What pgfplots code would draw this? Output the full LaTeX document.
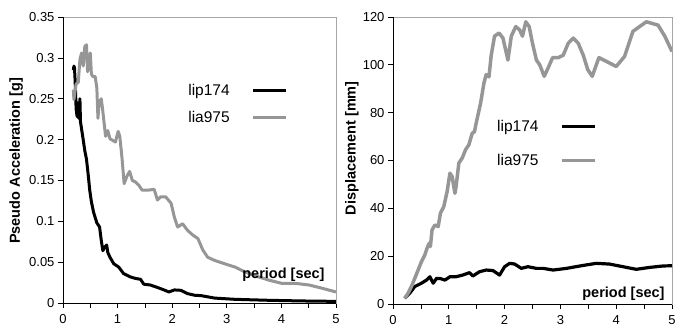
\documentclass[border=0pt]{standalone}
\usepackage{fontspec}
\setmainfont{Liberation Sans}
\usepackage{pgfplots}
\pgfplotsset{compat=1.18}
\definecolor{lgray}{RGB}{150,150,150}
\begin{document}
\begin{tikzpicture}
\pgfplotsset{
 myax/.style={
  scale only axis, anchor=origin,
  xmin=0,xmax=5, ymin=0,
  xtick={0,1,2,3,4,5}, minor xtick={0.5,1.5,2.5,3.5,4.5},
  tick align=outside, xtick pos=bottom, ytick pos=left,
  major tick length=5pt, minor tick length=5pt,
  every tick/.style={black, line width=0.7pt},
  minor tick style={black, line width=0.7pt},
  axis line style={draw=gray!70, line width=0.5pt},
  tick label style={font=\fontsize{13}{15}\selectfont},
  xticklabel style={yshift=-3pt},
  /pgf/number format/assume math mode=true,
  ylabel style={font=\fontsize{14.5}{17}\selectfont\bfseries, anchor=center},
  legend style={draw=none, fill=none, font=\fontsize{15.5}{18}\selectfont, anchor=north west, row sep=10pt, column sep=20pt},
  legend cell align=left,
  legend plot pos=right,
  legend image code/.code={\draw[##1] (0pt,0pt) -- (33pt,0pt);},
 }
}
\begin{axis}[myax, at={(63pt,-303pt)}, width=273pt, height=286pt,
  ymax=0.35, ytick={0,0.05,0.1,0.15,0.2,0.25,0.3,0.35},
  yticklabel style={/pgf/number format/fixed, /pgf/number format/precision=2},
  ylabel={Pseudo Acceleration [g]},
  ylabel style={at={(axis description cs:-0.172,0.497)}},
  legend style={at={(rel axis cs:0.44,0.78)}}]
\addplot[black, line width=3pt, line join=round] coordinates {
(0.19,0.285)(0.2,0.29)(0.21,0.288)(0.22,0.275)(0.23,0.258)(0.24,0.238)(0.25,0.232)(0.26,0.228)(0.27,0.245)(0.28,0.235)(0.29,0.226)(0.3,0.238)(0.31,0.25)(0.32,0.222)(0.34,0.213)(0.37,0.2)(0.4,0.186)(0.43,0.176)(0.46,0.158)(0.49,0.138)(0.52,0.124)(0.56,0.111)(0.62,0.098)(0.67,0.093)(0.7,0.077)(0.73,0.064)(0.77,0.069)(0.8,0.071)(0.82,0.062)(0.86,0.056)(0.93,0.048)(1.02,0.044)(1.11,0.036)(1.23,0.032)(1.33,0.030)(1.42,0.029)(1.48,0.023)(1.6,0.022)(1.73,0.019)(1.85,0.016)(1.94,0.0135)(2.04,0.016)(2.16,0.0155)(2.28,0.0115)(2.41,0.0095)(2.53,0.009)(2.78,0.006)(3.15,0.0045)(3.77,0.0033)(4.38,0.0025)(5,0.002)};
\addlegendentry{lip174}
\addplot[lgray, line width=3pt, line join=round] coordinates {
(0.19,0.261)(0.2,0.249)(0.24,0.268)(0.28,0.27)(0.31,0.298)(0.34,0.306)(0.37,0.29)(0.4,0.314)(0.43,0.316)(0.45,0.283)(0.47,0.29)(0.5,0.306)(0.52,0.28)(0.55,0.277)(0.59,0.277)(0.62,0.263)(0.64,0.226)(0.66,0.244)(0.7,0.25)(0.72,0.24)(0.75,0.222)(0.78,0.204)(0.82,0.211)(0.86,0.201)(0.96,0.197)(1.01,0.21)(1.04,0.204)(1.08,0.178)(1.12,0.146)(1.17,0.155)(1.22,0.161)(1.27,0.15)(1.33,0.148)(1.39,0.144)(1.45,0.138)(1.54,0.138)(1.67,0.139)(1.73,0.126)(1.79,0.13)(1.88,0.13)(1.98,0.122)(2.04,0.105)(2.1,0.093)(2.19,0.097)(2.28,0.089)(2.38,0.083)(2.47,0.079)(2.56,0.065)(2.65,0.056)(2.78,0.052)(2.96,0.048)(3.15,0.044)(3.33,0.038)(3.58,0.032)(3.77,0.028)(4.01,0.024)(4.26,0.024)(4.51,0.022)(4.75,0.018)(5,0.0135)};
\addlegendentry{lia975}
\draw[black, line width=0.9pt] (rel axis cs:0,1) -- (rel axis cs:0,0) -- (rel axis cs:1,0);
\node[anchor=base east, font=\fontsize{14.5}{17}\selectfont\bfseries] at (rel axis cs:0.971,0.084) {period [sec]};
\end{axis}
\begin{axis}[myax, at={(393pt,-304pt)}, width=279pt, height=287pt,
  ymax=120, ytick={0,20,40,60,80,100,120},
  ylabel={Displacement [mm]},
  ylabel style={at={(axis description cs:-0.147,0.543)}},
  legend style={at={(rel axis cs:0.355,0.655)}, row sep=17pt}]
\addplot[black, line width=3.2pt, line join=round] coordinates {
(0.21,2.4)(0.3,4.5)(0.39,7.3)(0.51,8.7)(0.6,10)(0.66,11.4)(0.72,8.7)(0.78,10.7)(0.84,10.7)(0.93,10)(1.02,11.4)(1.13,11.4)(1.25,12.1)(1.37,13.1)(1.43,11.7)(1.55,13.5)(1.67,14.2)(1.79,14)(1.91,12.1)(2.0,15.6)(2.09,17)(2.18,16.7)(2.3,14.9)(2.42,15.6)(2.57,14.9)(2.69,14.9)(2.87,14.2)(3.11,14.9)(3.35,15.9)(3.64,17)(3.88,16.7)(4.12,15.6)(4.36,14.5)(4.6,15.3)(4.84,15.9)(5.0,16)};
\addlegendentry{lip174}
\addplot[lgray, line width=3.5pt, line join=round] coordinates {
(0.21,2.4)(0.27,4.5)(0.33,7.3)(0.39,10.7)(0.45,14.2)(0.51,17.7)(0.57,20.5)(0.61,23.3)(0.65,25.4)(0.67,24)(0.7,31)(0.75,33)(0.81,32.4)(0.85,38)(0.91,40.7)(0.97,47)(1.02,54.7)(1.06,53.3)(1.11,46.3)(1.13,49)(1.18,58.9)(1.24,61)(1.3,64.5)(1.36,66.6)(1.42,71.4)(1.46,72)(1.49,75.6)(1.57,84)(1.63,92.4)(1.67,95.9)(1.72,95)(1.76,104)(1.82,112)(1.9,113.3)(1.97,111.2)(2.06,102)(2.12,112)(2.2,116)(2.27,114.6)(2.32,112)(2.38,118)(2.44,116)(2.5,109)(2.57,102)(2.63,100)(2.71,95.2)(2.78,98.7)(2.86,103)(2.96,103)(3.05,104)(3.14,109)(3.23,111.2)(3.32,109)(3.41,104)(3.49,98)(3.57,95.2)(3.69,103)(3.82,101.5)(4.0,99.3)(4.15,103.5)(4.3,114)(4.54,118)(4.75,116.6)(4.87,112)(5.0,105.6)};
\addlegendentry{lia975}
\draw[black, line width=0.9pt] (rel axis cs:0,1) -- (rel axis cs:0,0) -- (rel axis cs:1,0);
\node[anchor=base east, font=\fontsize{14.5}{17}\selectfont\bfseries] at (rel axis cs:0.986,0.024) {period [sec]};
\end{axis}
\pgfresetboundingbox
\path[use as bounding box] (0pt,0pt) rectangle (678pt,-329pt);
\end{tikzpicture}
\end{document}
